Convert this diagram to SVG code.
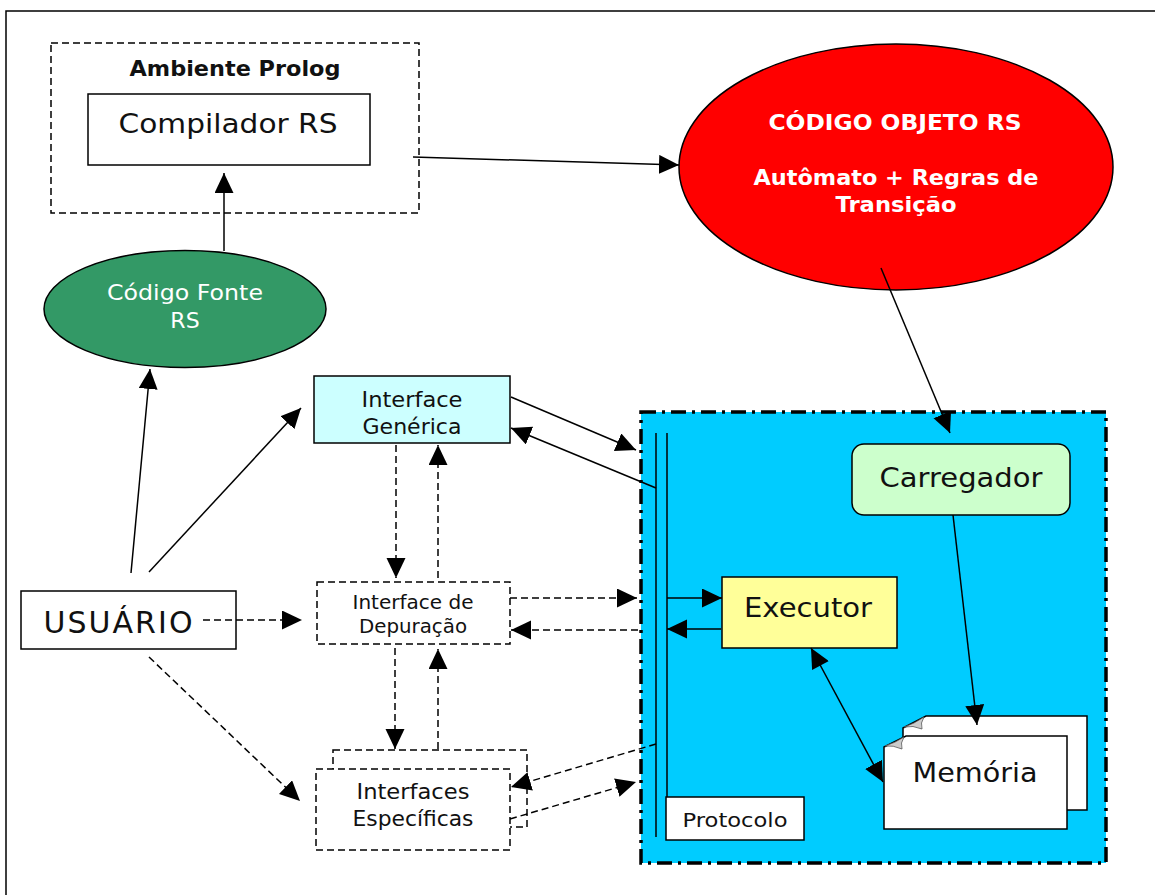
<svg xmlns="http://www.w3.org/2000/svg" width="1155" height="895" viewBox="0 0 1155 895">
  <defs>
    <marker id="arrow" markerUnits="userSpaceOnUse" markerWidth="21" markerHeight="21" refX="20" refY="9.5" orient="auto">
      <path d="M0,0 L20,9.5 L0,19 Z" fill="#000"/>
    </marker>
    <marker id="arrowStart" markerUnits="userSpaceOnUse" markerWidth="21" markerHeight="21" refX="0" refY="9.5" orient="auto">
      <path d="M20,0 L0,9.5 L20,19 Z" fill="#000"/>
    </marker>
    <style>
      .t { font-family: "DejaVu Sans", Verdana, sans-serif; fill: #111; text-anchor: middle; }
      .b { font-weight: bold; }
      .w { fill: #fff; }
      .box { stroke: #000; stroke-width: 1.5; }
      .dbox { fill: #fff; stroke: #000; stroke-width: 1.5; stroke-dasharray: 7 4; }
      .ln { fill: none; stroke: #000; stroke-width: 1.5; marker-end: url(#arrow); }
      .dl { fill: none; stroke: #000; stroke-width: 1.5; stroke-dasharray: 7 4; marker-end: url(#arrow); }
    </style>
  </defs>

  <rect width="1155" height="895" fill="#fff"/>

  <!-- page frame (top and left edges only) -->
  <path d="M6,895 L6,11 L1155,11" fill="none" stroke="#000" stroke-width="1.5"/>

  <!-- runtime area -->
  <g id="runtime">
    <rect x="641" y="412" width="465" height="451" fill="#00CCFF" stroke="#000" stroke-width="3.5" stroke-dasharray="15 6 3 6"/>
    <line x1="656" y1="433" x2="656" y2="837" stroke="#000" stroke-width="1.5"/>
    <line x1="667" y1="433" x2="667" y2="797" stroke="#000" stroke-width="1.5"/>
  </g>

  <g id="ambiente-prolog">
    <rect x="51" y="43" width="368" height="170" class="dbox"/>
    <text x="235" y="76" class="t b" font-size="21" textLength="211" lengthAdjust="spacingAndGlyphs">Ambiente Prolog</text>
  </g>

  <g id="compilador">
    <rect x="88" y="94" width="282" height="71" fill="#fff" class="box"/>
    <text x="228" y="133" class="t" font-size="27" textLength="219" lengthAdjust="spacingAndGlyphs">Compilador RS</text>
  </g>

  <g id="codigo-objeto">
    <ellipse cx="896" cy="167" rx="217" ry="123" fill="#FF0000" stroke="#000" stroke-width="1.5"/>
    <text x="895" y="130" class="t b w" font-size="21" textLength="253" lengthAdjust="spacingAndGlyphs">CÓDIGO OBJETO RS</text>
    <text x="896" y="185" class="t b w" font-size="21" textLength="285" lengthAdjust="spacingAndGlyphs">Autômato + Regras de</text>
    <text x="896" y="212" class="t b w" font-size="21" textLength="121" lengthAdjust="spacingAndGlyphs">Transição</text>
  </g>

  <g id="codigo-fonte">
    <ellipse cx="185" cy="309" rx="141" ry="58.5" fill="#339966" stroke="#000" stroke-width="1.5"/>
    <text x="185" y="300" class="t w" font-size="22" textLength="156" lengthAdjust="spacingAndGlyphs">Código Fonte</text>
    <text x="185" y="328" class="t w" font-size="22">RS</text>
  </g>

  <g id="usuario">
    <rect x="21" y="591" width="215" height="58" fill="#fff" class="box"/>
    <text x="118" y="633" class="t" font-size="30" textLength="149" lengthAdjust="spacing">USUÁRIO</text>
  </g>

  <g id="interface-generica">
    <rect x="314" y="376" width="196" height="67" fill="#CCFFFF" class="box"/>
    <text x="412" y="407" class="t" font-size="21" textLength="101" lengthAdjust="spacingAndGlyphs">Interface</text>
    <text x="412" y="434" class="t" font-size="21" textLength="99" lengthAdjust="spacingAndGlyphs">Genérica</text>
  </g>

  <g id="interface-depuracao">
    <rect x="317" y="582" width="193" height="62" class="dbox"/>
    <text x="413" y="609" class="t" font-size="19" textLength="121" lengthAdjust="spacingAndGlyphs">Interface de</text>
    <text x="413" y="633" class="t" font-size="19" textLength="108" lengthAdjust="spacingAndGlyphs">Depuração</text>
  </g>

  <g id="interfaces-especificas">
    <rect x="333" y="750" width="194" height="77" class="dbox"/>
    <rect x="316" y="769" width="194" height="81" class="dbox"/>
    <text x="413" y="799" class="t" font-size="21" textLength="113" lengthAdjust="spacingAndGlyphs">Interfaces</text>
    <text x="413" y="826" class="t" font-size="21" textLength="121" lengthAdjust="spacingAndGlyphs">Específicas</text>
  </g>

  <g id="protocolo">
    <rect x="666" y="797" width="138" height="43" fill="#fff" class="box"/>
    <text x="735" y="827" class="t" font-size="19" textLength="105" lengthAdjust="spacingAndGlyphs">Protocolo</text>
  </g>

  <g id="carregador">
    <rect x="852" y="444" width="218" height="71" rx="12" ry="12" fill="#CCFFCC" class="box"/>
    <text x="961" y="487" class="t" font-size="27" textLength="163" lengthAdjust="spacingAndGlyphs">Carregador</text>
  </g>

  <g id="executor">
    <rect x="722" y="577" width="175" height="71" fill="#FFFF99" class="box"/>
    <text x="808" y="617" class="t" font-size="27" textLength="128" lengthAdjust="spacingAndGlyphs">Executor</text>
  </g>

  <g id="memoria">
    <!-- back page -->
    <path d="M903,728 L926,716 L1087,716 L1087,810 L903,810 Z" fill="#fff" class="box"/>
    <path d="M904,727 Q914,724 924,717 Q920,723 922,729 Q913,725 904,727 Z" fill="#ccc" stroke="#555" stroke-width="0.8"/>
    <!-- front page -->
    <path d="M884,747 L906,736 L1067,736 L1067,829 L884,829 Z" fill="#fff" class="box"/>
    <path d="M885,746 Q895,743 904,737 Q900,743 902,749 Q893,745 885,746 Z" fill="#ccc" stroke="#555" stroke-width="0.8"/>
    <text x="975" y="782" class="t" font-size="27" textLength="125" lengthAdjust="spacingAndGlyphs">Memória</text>
  </g>

  <g id="connectors">
    <line x1="413" y1="157" x2="679" y2="165" class="ln"/>
    <line x1="224" y1="251" x2="224" y2="173" class="ln"/>
    <line x1="131" y1="573" x2="150" y2="369" class="ln"/>
    <line x1="149" y1="572" x2="301" y2="408" class="ln"/>
    <line x1="203" y1="620" x2="302" y2="620" class="dl"/>
    <line x1="149" y1="657" x2="300" y2="801" class="dl"/>
    <line x1="396" y1="445" x2="396" y2="578" class="dl"/>
    <line x1="438" y1="578" x2="438" y2="445" class="dl"/>
    <line x1="395" y1="648" x2="395" y2="749" class="dl"/>
    <line x1="438" y1="749" x2="438" y2="649" class="dl"/>
    <line x1="511" y1="397" x2="636" y2="450" class="ln"/>
    <line x1="656" y1="488" x2="511" y2="428" class="ln"/>
    <line x1="510" y1="598" x2="637" y2="598" class="dl"/>
    <line x1="638" y1="630" x2="511" y2="630" class="dl"/>
    <line x1="656" y1="744" x2="511" y2="787" class="dl"/>
    <line x1="510" y1="819" x2="636" y2="782" class="dl"/>
    <line x1="881" y1="268" x2="950" y2="433" class="ln"/>
    <line x1="667" y1="598" x2="722" y2="598" class="ln"/>
    <line x1="721" y1="629" x2="667" y2="629" class="ln"/>
    <line x1="953" y1="515" x2="977" y2="725" class="ln"/>
    <line x1="811" y1="648" x2="883" y2="782" class="ln" marker-start="url(#arrowStart)"/>
  </g>
</svg>
